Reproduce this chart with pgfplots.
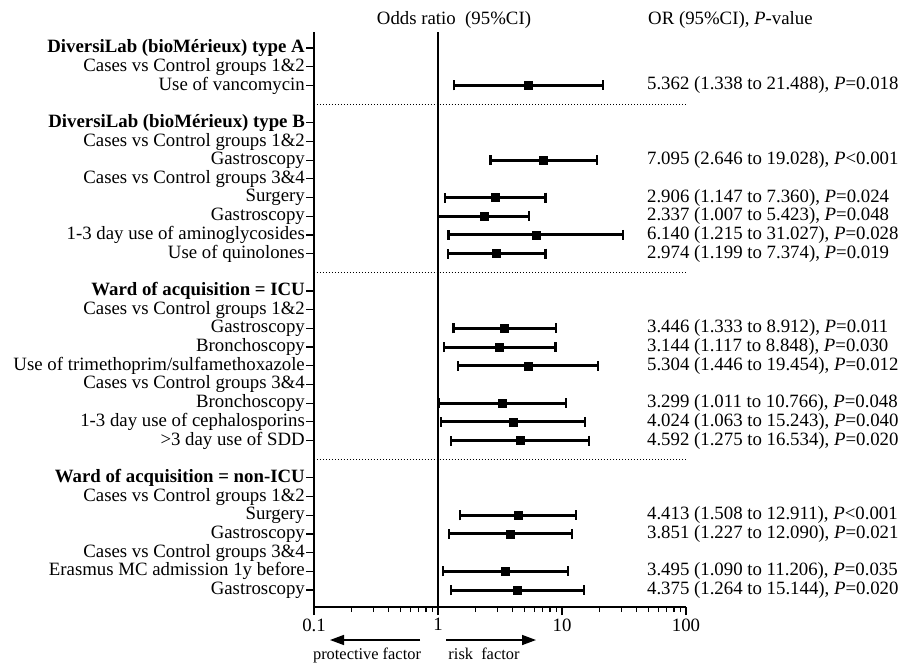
\documentclass[border=0pt]{standalone}
\usepackage{fontspec}
\setmainfont{Liberation Serif}
\usepackage{pgfplots}
\pgfplotsset{compat=1.18}
\usepackage{pgfplotstable}
\usetikzlibrary{arrows.meta}

\pgfplotstableread{
y or lo hi
2 5.362 1.338 21.488
6 7.095 2.646 19.028
8 2.906 1.147 7.360
9 2.337 1.007 5.423
10 6.140 1.215 31.027
11 2.974 1.199 7.374
15 3.446 1.333 8.912
16 3.144 1.117 8.848
17 5.304 1.446 19.454
19 3.299 1.011 10.766
20 4.024 1.063 15.243
21 4.592 1.275 16.534
25 4.413 1.508 12.911
26 3.851 1.227 12.090
28 3.495 1.090 11.206
29 4.375 1.264 15.144
}\ordata

\begin{document}
\begin{tikzpicture}[x=1bp,y=1bp,font=\fontsize{18.8bp}{20bp}\selectfont]
\useasboundingbox (0,0) rectangle (916,-663);
\begin{axis}[
  at={(314bp,-607bp)}, anchor=south west,
  scale only axis, width=372bp, height=575bp,
  xmode=log, xmin=0.1, xmax=100,
  ymin=-0.86, ymax=29.91, y dir=reverse,
  axis x line*=bottom, axis y line*=left,
  axis line style={line width=1.5bp,-},
  tick align=outside,
  major tick length=8bp, minor tick length=5bp,
  tick style={line width=1.2bp, black},
  xtick={0.1,1,10,100}, xticklabels={0.1,1,10,100},
  minor xtick={0.2,0.3,0.4,0.5,0.6,0.7,0.8,0.9,2,3,4,5,6,7,8,9,20,30,40,50,60,70,80,90},
  ytick={0,1,2,4,5,6,7,8,9,10,11,13,14,15,16,17,18,19,20,21,23,24,25,26,27,28,29},
  yticklabels={
    {\bfseries DiversiLab (bioMérieux) type A},
    Cases vs Control groups 1\&2,
    Use of vancomycin,
    {\bfseries DiversiLab (bioMérieux) type B},
    Cases vs Control groups 1\&2,
    Gastroscopy,
    Cases vs Control groups 3\&4,
    Surgery,
    Gastroscopy,
    1-3 day use of aminoglycosides,
    Use of quinolones,
    {\bfseries Ward of acquisition = ICU},
    Cases vs Control groups 1\&2,
    Gastroscopy,
    Bronchoscopy,
    Use of trimethoprim/sulfamethoxazole,
    Cases vs Control groups 3\&4,
    Bronchoscopy,
    1-3 day use of cephalosporins,
    {>3 day use of SDD},
    {\bfseries Ward of acquisition = non-ICU},
    Cases vs Control groups 1\&2,
    Surgery,
    Gastroscopy,
    Cases vs Control groups 3\&4,
    Erasmus MC admission 1y before,
    Gastroscopy},
  yticklabel style={inner xsep=1bp},
  clip=false,
]
\addplot[black, line width=1.2bp] coordinates {(1,-0.86) (1,29.91)};
\addplot[black, dotted, line width=1bp] coordinates {(0.1,3) (100,3)};
\addplot[black, dotted, line width=1bp] coordinates {(0.1,12) (100,12)};
\addplot[black, dotted, line width=1bp] coordinates {(0.1,22) (100,22)};
\addplot[black, only marks, mark=square*, mark size=4bp,
  error bars/.cd, x dir=both, x explicit,
  error bar style={line width=3bp, black},
  error mark options={rotate=90, line width=2.2bp, mark size=5bp, black}]
  table[x=or, y=y, x error plus expr=\thisrow{hi}-\thisrow{or}, x error minus expr=\thisrow{or}-\thisrow{lo}] {\ordata};
\tikzset{rt/.style={anchor=west, inner xsep=0pt}}
\node[rt] at (axis cs:48.4,2) {5.362 (1.338 to 21.488), \textit{P}=0.018};
\node[rt] at (axis cs:48.4,6) {7.095 (2.646 to 19.028), \textit{P}<0.001};
\node[rt] at (axis cs:48.4,8) {2.906 (1.147 to 7.360), \textit{P}=0.024};
\node[rt] at (axis cs:48.4,9) {2.337 (1.007 to 5.423), \textit{P}=0.048};
\node[rt] at (axis cs:48.4,10) {6.140 (1.215 to 31.027), \textit{P}=0.028};
\node[rt] at (axis cs:48.4,11) {2.974 (1.199 to 7.374), \textit{P}=0.019};
\node[rt] at (axis cs:48.4,15) {3.446 (1.333 to 8.912), \textit{P}=0.011};
\node[rt] at (axis cs:48.4,16) {3.144 (1.117 to 8.848), \textit{P}=0.030};
\node[rt] at (axis cs:48.4,17) {5.304 (1.446 to 19.454), \textit{P}=0.012};
\node[rt] at (axis cs:48.4,19) {3.299 (1.011 to 10.766), \textit{P}=0.048};
\node[rt] at (axis cs:48.4,20) {4.024 (1.063 to 15.243), \textit{P}=0.040};
\node[rt] at (axis cs:48.4,21) {4.592 (1.275 to 16.534), \textit{P}=0.020};
\node[rt] at (axis cs:48.4,25) {4.413 (1.508 to 12.911), \textit{P}<0.001};
\node[rt] at (axis cs:48.4,26) {3.851 (1.227 to 12.090), \textit{P}=0.021};
\node[rt] at (axis cs:48.4,28) {3.495 (1.090 to 11.206), \textit{P}=0.035};
\node[rt] at (axis cs:48.4,29) {4.375 (1.264 to 15.144), \textit{P}=0.020};
\end{axis}
\node[anchor=base] at (454,-25) {Odds ratio\ \ (95\%CI)};
\node[anchor=base west, inner sep=0pt] at (648,-25) {OR (95\%CI), \textit{P}-value};
\draw[-{Triangle[length=14bp,width=10bp]}, line width=1.5bp] (420,-640) -- (330,-640);
\draw[-{Triangle[length=14bp,width=10bp]}, line width=1.5bp] (446,-640) -- (536,-640);
\node[font=\fontsize{16.4bp}{18bp}\selectfont, anchor=base] at (367,-659) {protective factor};
\node[font=\fontsize{16.4bp}{18bp}\selectfont, anchor=base] at (484,-659) {risk\ \ factor};
\end{tikzpicture}
\end{document}
